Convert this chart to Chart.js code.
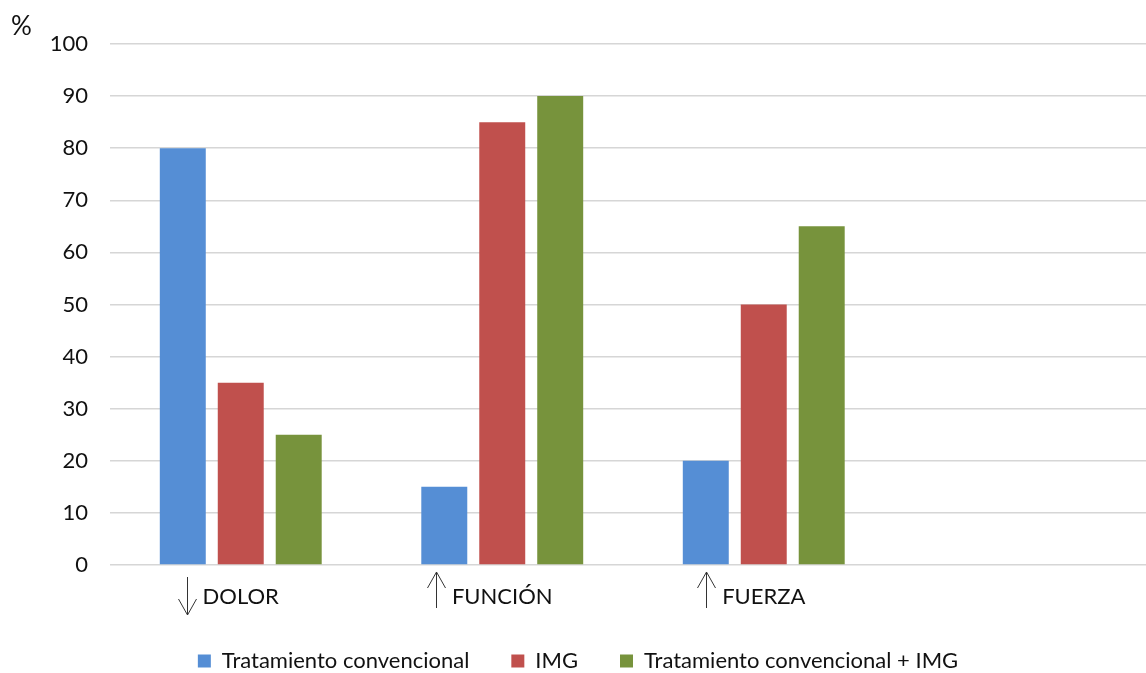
<!DOCTYPE html>
<html>
<head>
<meta charset="utf-8">
<script src="https://cdn.jsdelivr.net/npm/chart.js@4/dist/chart.umd.min.js"></script>
<style>
  html, body { margin: 0; padding: 0; background: #fff; overflow: hidden; }
  #wrap { width: 1146px; height: 673px; overflow: hidden; }
</style>
</head>
<body>
<div id="wrap"><canvas id="c" width="1170" height="673"></canvas></div>
<script>
// Outcome categories (the fourth slot is left empty on the axis)
const categories = ['DOLOR', 'FUNCIÓN', 'FUERZA', ''];
// Direction of change shown beside each category label
const arrows = ['down', 'up', 'up', ''];

// Percentage per group
const convencional = [80, 15, 20, null];
const img = [35, 85, 50, null];
const convencionalImg = [25, 90, 65, null];

const seriesNames = ['Tratamiento convencional', 'IMG', 'Tratamiento convencional + IMG'];
const yTicks = [0, 10, 20, 30, 40, 50, 60, 70, 80, 90, 100];

const FONT = 'Lato, "Open Sans", sans-serif';
const TEXT = '#111';

// Arrows drawn next to the category labels, plus the "%" unit marker
const annotations = {
  id: 'annotations',
  afterDraw(chart) {
    const ctx = chart.ctx;
    const xs = chart.scales.x;
    const area = chart.chartArea;
    ctx.save();
    ctx.font = '26px ' + FONT;
    ctx.fillStyle = TEXT;
    ctx.textAlign = 'left';
    ctx.textBaseline = 'alphabetic';
    ctx.fillText('%', 11, area.top - 9);

    ctx.font = '22px ' + FONT;
    ctx.strokeStyle = '#333';
    ctx.lineWidth = 1;
    const cy = area.bottom + 32;
    categories.forEach((label, i) => {
      const dir = arrows[i];
      if (!dir || !label) return;
      const w = ctx.measureText(label).width;
      const ax = Math.round(xs.getPixelForTick(i) - w / 2 - 16) + 0.5;
      let tail, tip;
      if (dir === 'down') { tail = cy - 20; tip = cy + 18; }
      else { tail = cy + 11; tip = cy - 25; }
      const s = dir === 'down' ? -1 : 1;
      ctx.beginPath();
      ctx.moveTo(ax, tail);
      ctx.lineTo(ax, tip);
      ctx.moveTo(ax - 9, tip + s * 16);
      ctx.lineTo(ax, tip);
      ctx.lineTo(ax + 9, tip + s * 16);
      ctx.stroke();
    });
    ctx.restore();
  }
};

const barCommon = { categoryPercentage: 0.665, barPercentage: 0.793 };

new Chart(document.getElementById('c'), {
  type: 'bar',
  data: {
    labels: categories,
    datasets: [
      { label: seriesNames[0], data: convencional, backgroundColor: '#558ED5', ...barCommon },
      { label: seriesNames[1], data: img, backgroundColor: '#C0504D', ...barCommon },
      { label: seriesNames[2], data: convencionalImg, backgroundColor: '#77933C', ...barCommon }
    ]
  },
  options: {
    responsive: false,
    animation: false,
    devicePixelRatio: 1,
    layout: { padding: { top: 44, right: 14, left: 0, bottom: -9 } },
    plugins: {
      tooltip: { enabled: false },
      legend: {
        position: 'bottom',
        labels: {
          boxWidth: 13,
          boxHeight: 13,
          padding: 42,
          color: TEXT,
          font: { family: FONT, size: 22 }
        }
      }
    },
    scales: {
      x: {
        grid: { display: false, drawTicks: false },
        border: { display: false },
        ticks: {
          color: TEXT,
          padding: 19,
          maxRotation: 0,
          autoSkip: false,
          font: { family: FONT, size: 22 }
        },
        afterFit(scale) { scale.height = 43; }
      },
      y: {
        min: 0,
        max: 100,
        afterBuildTicks(scale) { scale.ticks = yTicks.map(v => ({ value: v })); },
        grid: { color: '#d6d6d6', lineWidth: 1.5, drawTicks: false },
        border: { display: false },
        ticks: {
          color: TEXT,
          padding: 22,
          font: { family: FONT, size: 22 }
        },
        afterFit(scale) { scale.width = 110; }
      }
    }
  },
  plugins: [annotations]
});
</script>
</body>
</html>
